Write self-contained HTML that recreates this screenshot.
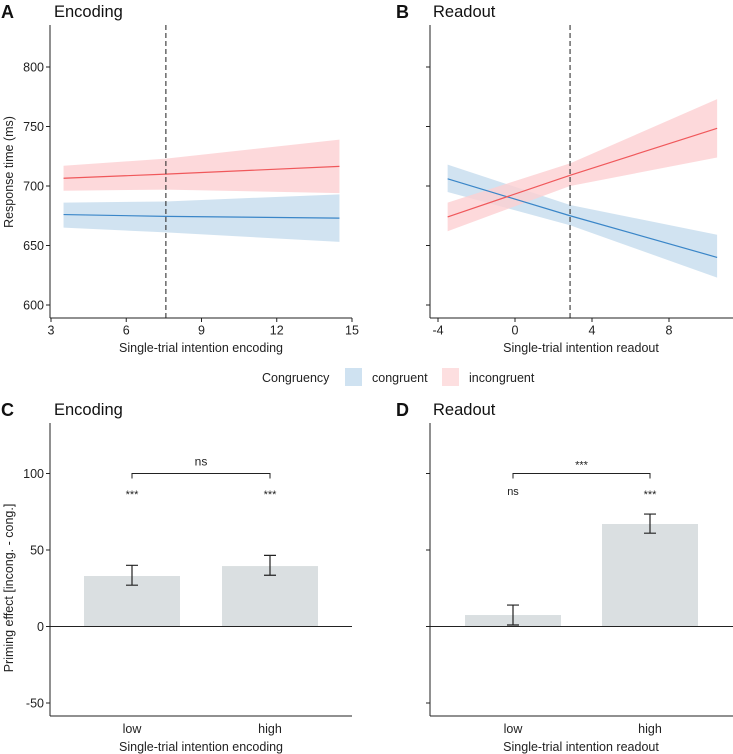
<!DOCTYPE html>
<html><head><meta charset="utf-8"><style>
html,body{margin:0;padding:0;background:#fff}
svg{display:block;font-family:"Liberation Sans",Arial,sans-serif}
</style></head><body>
<svg id="fig" width="733" height="754" viewBox="0 0 733 754"></svg>
<script>
// Panel A (encoding) data
const encX = [3.5, 7.58, 14.5];
const encIncMean = [706.5, 710, 716.5];
const encIncLo = [696, 697, 694];
const encIncHi = [717, 723, 739];
const encConMean = [676, 674.5, 673];
const encConLo = [665, 661, 653];
const encConHi = [686, 687, 693];
const encCut = 7.58;
const encTicks = [3, 6, 9, 12, 15];
// Panel B (readout) data
const roX = [-3.5, 2.86, 10.5];
const roIncMean = [674, 709, 748.5];
const roIncLo = [662, 700, 724];
const roIncHi = [686, 719, 773];
const roConMean = [706, 675, 640];
const roConLo = [695, 667, 623];
const roConHi = [718, 684, 659];
const roCut = 2.86;
const roTicks = [-4, 0, 4, 8];
const rtTicks = [600, 650, 700, 750, 800];
// Panels C/D
const barCats = ["low", "high"];
const encBars = [33, 39.5];
const encErrLo = [27, 33.5];
const encErrHi = [40, 46.5];
const encStars = ["***", "***"];
const encBracket = "ns";
const roBars = [7.5, 67];
const roErrLo = [1, 61];
const roErrHi = [14, 73.5];
const roStars = ["ns", "***"];
const roBracket = "***";
const peTicks = [-50, 0, 50, 100];

const NS = "http://www.w3.org/2000/svg";
const svg = document.getElementById('fig');
function mk(tag, attrs, parent, txt){
  const e = document.createElementNS(NS, tag);
  for (const k in attrs) e.setAttribute(k, attrs[k]);
  if (txt !== undefined) e.textContent = txt;
  (parent || svg).appendChild(e);
  return e;
}
function lin(d0,d1,r0,r1){return v=>r0+(v-d0)*(r1-r0)/(d1-d0);}

function linePanel(o){
  const g = mk('g', {});
  
  
  const xs = lin(o.xd[0], o.xd[1], o.xr[0], o.xr[1]);
  const ys = lin(600, 800, 305, 67);
  // bands
  [[o.conLo,o.conHi,'#c6dcee','congruent'],[o.incLo,o.incHi,'#fdd0d2','incongruent']].forEach(([lo,hi,c,n])=>{
    let p = o.x.map((v,i)=>`${xs(v)},${ys(hi[i])}`).concat(o.x.slice().reverse().map((v,j)=>{const i=o.x.length-1-j;return `${xs(v)},${ys(lo[i])}`;}));
    const b = mk('polygon', {points:p.join(' '), fill:c, opacity:0.8}, g);
    
    
  });
  [[o.conMean,'#3a86c8','congruent'],[o.incMean,'#f0585b','incongruent']].forEach(([m,c,n])=>{
    const l = mk('polyline', {points:o.x.map((v,i)=>`${xs(v)},${ys(m[i])}`).join(' '), fill:'none', stroke:c, 'stroke-width':1.2}, g);
    
    
  });
  const cut = mk('line', {x1:xs(o.cut), x2:xs(o.cut), y1:25, y2:318, stroke:'#333', 'stroke-width':1.1, 'stroke-dasharray':'5,3'}, g);
  
  
  // axes
  mk('line', {x1:o.ax, x2:o.ax, y1:25, y2:318, stroke:'#222', 'stroke-width':1}, g);
  mk('line', {x1:o.ax, x2:o.xend, y1:318, y2:318, stroke:'#222', 'stroke-width':1}, g);
  rtTicks.forEach(t=>{
    mk('line', {x1:o.ax-4, x2:o.ax, y1:ys(t), y2:ys(t), stroke:'#222'}, g);
    if (o.ylabels){
      const tl = mk('text', {x:o.ax-6, y:ys(t)+4.5, 'text-anchor':'end', 'font-size':12.5, fill:'#222'}, g, t);
      
      
    }
  });
  o.ticks.forEach(t=>{
    mk('line', {x1:xs(t), x2:xs(t), y1:318, y2:322, stroke:'#222'}, g);
    const tl = mk('text', {x:xs(t), y:334.5, 'text-anchor':'middle', 'font-size':12.5, fill:'#222'}, g, t);
    
    
  });
  const xt = mk('text', {x:o.xlx, y:352, 'text-anchor':'middle', 'font-size':12.5, fill:'#222'}, g, o.xlabel);
  
  
  const lt = mk('text', {x:o.letterX, y:18, 'font-size':18, 'font-weight':'bold', fill:'#111'}, g, o.letter);
  
  
  const tt = mk('text', {x:o.titleX, y:17, 'font-size':16.5, fill:'#111'}, g, o.title);
  
  
}
linePanel({name:'panel-a-encoding', xd:[3,15], xr:[51,352], x:encX, incMean:encIncMean, incLo:encIncLo, incHi:encIncHi, conMean:encConMean, conLo:encConLo, conHi:encConHi, cut:encCut, ticks:encTicks, ax:50, xend:352, ylabels:true, xlabel:'Single-trial intention encoding', xlx:201, letter:'A', letterX:1, title:'Encoding', titleX:54});
linePanel({name:'panel-b-readout', xd:[-4,8], xr:[438,669], x:roX, incMean:roIncMean, incLo:roIncLo, incHi:roIncHi, conMean:roConMean, conLo:roConLo, conHi:roConHi, cut:roCut, ticks:roTicks, ax:430, xend:733, ylabels:false, xlabel:'Single-trial intention readout', xlx:581, letter:'B', letterX:396, title:'Readout', titleX:433});

const yl = mk('text', {transform:'translate(13,172) rotate(-90)', 'text-anchor':'middle', 'font-size':12.5, fill:'#222'}, svg, 'Response time (ms)');



// legend
const lg = mk('g', {});


mk('text', {x:262, y:382, 'font-size':12.5, fill:'#222'}, lg, 'Congruency');
const s1 = mk('rect', {x:345, y:368, width:17, height:18, fill:'#cfe2f1'}, lg);


mk('text', {x:372, y:382, 'font-size':12.5, fill:'#222'}, lg, 'congruent');
const s2 = mk('rect', {x:442, y:368, width:17, height:18, fill:'#fddfe0'}, lg);


mk('text', {x:469, y:382, 'font-size':12.5, fill:'#222'}, lg, 'incongruent');

function barPanel(o){
  const g = mk('g', {});
  
  
  const ys = lin(0, 100, 626.5, 473.5);
  const bw = 96;
  barCats.forEach((c,i)=>{
    const cx = o.cx[i];
    const r = mk('rect', {x:cx-bw/2, y:Math.min(ys(o.vals[i]),ys(0)), width:bw, height:Math.abs(ys(0)-ys(o.vals[i])), fill:'#dadfe1'}, g);
    
    
    const e = mk('path', {d:`M${cx-6},${ys(o.hi[i])}H${cx+6}M${cx},${ys(o.hi[i])}V${ys(o.lo[i])}M${cx-6},${ys(o.lo[i])}H${cx+6}`, stroke:'#222', 'stroke-width':1.2, fill:'none'}, g);
    
    
    const st = mk('text', {x:cx, y:o.stars[i]==='ns'?ys(88)+3:ys(88)+6, 'text-anchor':'middle', 'font-size':o.stars[i]==='ns'?11:11, fill:'#222'}, g, o.stars[i]);
    
    
    const tl = mk('text', {x:cx, y:733, 'text-anchor':'middle', 'font-size':12.5, fill:'#222'}, g, c);
    
    
  });
  const br = mk('path', {d:`M${o.cx[0]},${ys(100)+5}V${ys(100)}H${o.cx[1]}V${ys(100)+5}`, stroke:'#222', fill:'none', 'stroke-width':1}, g);
  
  
  const bt = mk('text', {x:(o.cx[0]+o.cx[1])/2, y:ys(100)-(o.bracket==='ns'?8:5), 'text-anchor':'middle', 'font-size':o.bracket==='ns'?12:11, fill:'#222'}, g, o.bracket);
  
  
  mk('line', {x1:o.ax, x2:o.xend, y1:ys(0), y2:ys(0), stroke:'#222', 'stroke-width':1.1}, g);
  mk('line', {x1:o.ax, x2:o.ax, y1:423, y2:716, stroke:'#222'}, g);
  mk('line', {x1:o.ax, x2:o.xend, y1:716, y2:716, stroke:'#222'}, g);
  peTicks.forEach(t=>{
    mk('line', {x1:o.ax-4, x2:o.ax, y1:ys(t), y2:ys(t), stroke:'#222'}, g);
    if (o.ylabels){
      const tl = mk('text', {x:o.ax-6, y:ys(t)+4.5, 'text-anchor':'end', 'font-size':12.5, fill:'#222'}, g, t);
      
      
    }
  });
  const xt = mk('text', {x:o.xlx, y:751, 'text-anchor':'middle', 'font-size':12.5, fill:'#222'}, g, o.xlabel);
  
  
  const lt = mk('text', {x:o.letterX, y:416, 'font-size':18, 'font-weight':'bold', fill:'#111'}, g, o.letter);
  
  
  const tt = mk('text', {x:o.titleX, y:415, 'font-size':16.5, fill:'#111'}, g, o.title);
  
  
}
barPanel({name:'panel-c-encoding-priming', cx:[132,270], vals:encBars, lo:encErrLo, hi:encErrHi, stars:encStars, bracket:encBracket, ax:50, xend:352, ylabels:true, xlabel:'Single-trial intention encoding', xlx:201, letter:'C', letterX:1, title:'Encoding', titleX:54});
barPanel({name:'panel-d-readout-priming', cx:[513,650], vals:roBars, lo:roErrLo, hi:roErrHi, stars:roStars, bracket:roBracket, ax:430, xend:733, ylabels:false, xlabel:'Single-trial intention readout', xlx:581, letter:'D', letterX:396, title:'Readout', titleX:433});

const yl2 = mk('text', {transform:'translate(13,588) rotate(-90)', 'text-anchor':'middle', 'font-size':12.5, fill:'#222'}, svg, 'Priming effect [incong. - cong.]');


</script>
</body></html>
